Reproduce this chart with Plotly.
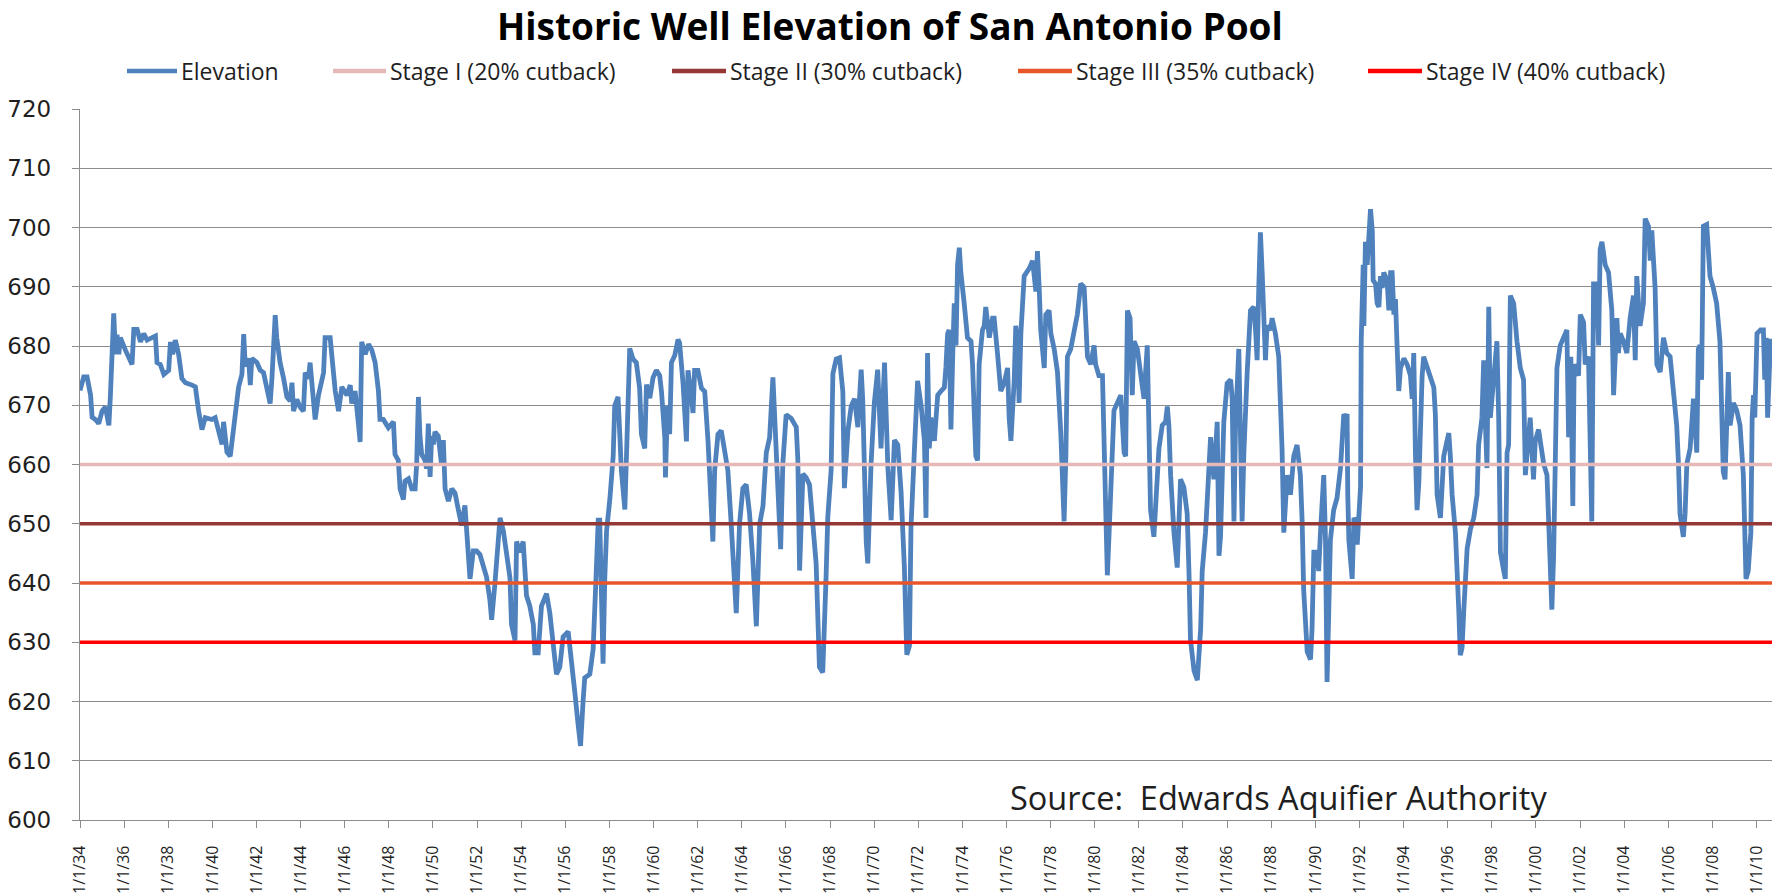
import datetime as dt
import plotly.graph_objects as go

# ---------------- data ----------------
title_text = "Historic Well Elevation of San Antonio Pool"
source_text = "Source:  Edwards Aquifier Authority"

# decimal years of readings
years = [
    1934.00, 1934.17, 1934.32, 1934.48, 1934.55, 1934.70, 1934.85, 1935.00, 1935.15, 1935.31,
    1935.38, 1935.46, 1935.53, 1935.61, 1935.68, 1935.76, 1935.83, 1936.06, 1936.21, 1936.36,
    1936.44, 1936.59, 1936.74, 1936.89, 1937.04, 1937.27, 1937.42, 1937.49, 1937.64, 1937.80,
    1938.02, 1938.10, 1938.20, 1938.32, 1938.47, 1938.62, 1938.78, 1939.08, 1939.23, 1939.38,
    1939.53, 1939.68, 1939.98, 1940.13, 1940.28, 1940.44, 1940.51, 1940.66, 1940.81, 1940.96,
    1941.11, 1941.19, 1941.34, 1941.42, 1941.49, 1941.64, 1941.72, 1941.79, 1942.02, 1942.17,
    1942.32, 1942.47, 1942.62, 1942.70, 1942.85, 1942.92, 1943.07, 1943.23, 1943.38, 1943.53,
    1943.61, 1943.68, 1943.83, 1943.98, 1944.13, 1944.21, 1944.36, 1944.43, 1944.59, 1944.66,
    1944.81, 1944.96, 1945.04, 1945.11, 1945.34, 1945.41, 1945.57, 1945.72, 1945.87, 1946.10,
    1946.25, 1946.32, 1946.47, 1946.62, 1946.70, 1946.77, 1946.93, 1947.08, 1947.23, 1947.38,
    1947.53, 1947.60, 1947.75, 1947.98, 1948.21, 1948.28, 1948.43, 1948.51, 1948.66, 1948.73,
    1948.89, 1949.04, 1949.19, 1949.26, 1949.34, 1949.41, 1949.49, 1949.64, 1949.71, 1949.79,
    1949.87, 1949.94, 1950.02, 1950.09, 1950.24, 1950.39, 1950.47, 1950.55, 1950.70, 1950.85,
    1951.00, 1951.15, 1951.30, 1951.45, 1951.60, 1951.68, 1951.83, 1951.98, 1952.13, 1952.28,
    1952.43, 1952.58, 1952.66, 1952.81, 1952.96, 1953.04,
    # 1953 - 1972
    1953.19, 1953.34, 1953.49, 1953.56, 1953.72, 1953.79, 1953.94, 1954.09, 1954.24, 1954.39,
    1954.55, 1954.62, 1954.77, 1954.92, 1955.15, 1955.30, 1955.45, 1955.60, 1955.75, 1955.90,
    1956.13, 1956.28, 1956.43, 1956.58, 1956.69, 1956.81, 1956.88, 1957.11, 1957.26, 1957.41,
    1957.49, 1957.56, 1957.64, 1957.71, 1957.79, 1957.87, 1958.02, 1958.17, 1958.24, 1958.39,
    1958.47, 1958.54, 1958.70, 1958.77, 1958.85, 1958.92, 1959.07, 1959.22, 1959.37, 1959.45,
    1959.60, 1959.68, 1959.83, 1959.98, 1960.13, 1960.28, 1960.36, 1960.51, 1960.54, 1960.63,
    1960.73, 1960.81, 1960.96, 1961.11, 1961.18, 1961.34, 1961.49, 1961.56, 1961.71, 1961.79,
    1961.86, 1962.01, 1962.17, 1962.32, 1962.47, 1962.62, 1962.69, 1962.77, 1962.92, 1963.07,
    1963.22, 1963.37, 1963.52, 1963.67, 1963.75, 1963.90, 1964.05, 1964.20, 1964.35, 1964.50,
    1964.66, 1964.81, 1964.96, 1965.11, 1965.26, 1965.41, 1965.49, 1965.64, 1965.76, 1965.86,
    1966.01, 1966.24, 1966.47, 1966.54, 1966.62, 1966.77, 1966.92, 1967.07, 1967.22, 1967.37,
    1967.52, 1967.67, 1967.82, 1967.90, 1968.05, 1968.13, 1968.28, 1968.43, 1968.58, 1968.65,
    1968.81, 1968.96, 1969.11, 1969.26, 1969.41, 1969.48, 1969.64, 1969.71, 1969.86, 1970.01,
    1970.16, 1970.31, 1970.47, 1970.62, 1970.77, 1970.92, 1971.07, 1971.22, 1971.37, 1971.48,
    1971.60, 1971.67, 1971.82, 1971.97, 1972.13, 1972.28,
    # 1972 - 1991
    1972.35, 1972.42, 1972.50, 1972.57, 1972.73, 1972.88, 1973.03, 1973.18, 1973.25, 1973.33,
    1973.40, 1973.48, 1973.56, 1973.63, 1973.71, 1973.78, 1973.86, 1973.93, 1974.08, 1974.23,
    1974.39, 1974.46, 1974.54, 1974.61, 1974.69, 1974.76, 1974.91, 1974.99, 1975.06, 1975.22,
    1975.37, 1975.44, 1975.59, 1975.74, 1975.89, 1976.05, 1976.12, 1976.20, 1976.35, 1976.42,
    1976.50, 1976.57, 1976.65, 1976.80, 1977.03, 1977.18, 1977.33, 1977.40, 1977.48, 1977.55,
    1977.71, 1977.78, 1977.93, 1978.01, 1978.16, 1978.31, 1978.46, 1978.54, 1978.61, 1978.69,
    1978.76, 1978.91, 1979.06, 1979.21, 1979.29, 1979.36, 1979.52, 1979.59, 1979.67, 1979.82,
    1979.97, 1980.04, 1980.19, 1980.35, 1980.42, 1980.50, 1980.57, 1980.65, 1980.72, 1980.87,
    1981.02, 1981.18, 1981.33, 1981.40, 1981.48, 1981.60, 1981.70, 1981.78, 1981.93, 1982.08,
    1982.23, 1982.38, 1982.46, 1982.53, 1982.68, 1982.84, 1982.91, 1983.06, 1983.21, 1983.29,
    1983.36, 1983.44, 1983.59, 1983.74, 1983.89, 1984.04, 1984.19, 1984.27, 1984.34, 1984.50,
    1984.65, 1984.80, 1984.87, 1985.02, 1985.10, 1985.25, 1985.40, 1985.55, 1985.63, 1985.70,
    1985.85, 1986.00, 1986.16, 1986.23, 1986.31, 1986.38, 1986.53, 1986.68, 1986.76, 1986.83,
    1986.91, 1987.06, 1987.21, 1987.29, 1987.36, 1987.44, 1987.51, 1987.59, 1987.66, 1987.74,
    1987.81, 1987.97, 1988.04, 1988.19, 1988.34, 1988.42, 1988.49, 1988.57, 1988.72, 1988.87,
    1989.02, 1989.17, 1989.32, 1989.40, 1989.47, 1989.63, 1989.78, 1989.85, 1989.93, 1990.08,
    1990.15, 1990.23, 1990.38, 1990.46, 1990.53, 1990.61, 1990.68, 1990.83, 1990.98,
    # 1991 - 2010
    1991.14, 1991.29, 1991.37, 1991.44, 1991.47, 1991.52, 1991.67, 1991.75, 1991.82, 1991.90,
    1991.97, 1992.05, 1992.08, 1992.17, 1992.20, 1992.27, 1992.35, 1992.42, 1992.50, 1992.58,
    1992.62, 1992.73, 1992.80, 1992.88, 1992.95, 1993.03, 1993.10, 1993.25, 1993.33, 1993.41,
    1993.48, 1993.56, 1993.63, 1993.71, 1993.78, 1993.86, 1994.01, 1994.16, 1994.31, 1994.39,
    1994.46, 1994.54, 1994.61, 1994.69, 1994.76, 1994.84, 1994.91, 1995.07, 1995.22, 1995.37,
    1995.44, 1995.52, 1995.67, 1995.74, 1995.82, 1995.97, 1996.05, 1996.12, 1996.20, 1996.35,
    1996.42, 1996.50, 1996.57, 1996.65, 1996.73, 1996.80, 1996.88, 1997.03, 1997.18, 1997.33,
    1997.40, 1997.55, 1997.63, 1997.71, 1997.78, 1997.86, 1997.93, 1998.08, 1998.23, 1998.31,
    1998.39, 1998.54, 1998.61, 1998.69, 1998.76, 1998.84, 1998.99, 1999.14, 1999.29, 1999.44,
    1999.52, 1999.59, 1999.74, 1999.89, 1999.97, 2000.12, 2000.20, 2000.35, 2000.50, 2000.57,
    2000.65, 2000.72, 2000.80, 2000.87, 2000.95, 2001.10, 2001.25, 2001.40, 2001.48, 2001.58,
    2001.67, 2001.73, 2001.93, 2002.01, 2002.16, 2002.23, 2002.38, 2002.46, 2002.53, 2002.61,
    2002.76, 2002.84, 2002.91, 2002.99, 2003.14, 2003.29, 2003.44, 2003.52, 2003.59, 2003.67,
    2003.74, 2003.82, 2003.97, 2004.12, 2004.27, 2004.42, 2004.50, 2004.57, 2004.65, 2004.72,
    2004.87, 2004.95, 2005.10, 2005.18, 2005.25, 2005.33, 2005.40, 2005.48, 2005.63, 2005.78,
    2005.93, 2006.08, 2006.23, 2006.38, 2006.46, 2006.53, 2006.68, 2006.76, 2006.84, 2006.99,
    2007.14, 2007.29, 2007.36, 2007.44, 2007.51, 2007.59, 2007.74, 2007.82, 2007.89, 2008.04,
    2008.19, 2008.34, 2008.42, 2008.49, 2008.57, 2008.65, 2008.72, 2008.80, 2008.95, 2009.10,
    2009.25, 2009.40, 2009.52, 2009.62, 2009.74, 2009.80, 2009.86, 2009.92, 2010.02, 2010.18,
    2010.31, 2010.37, 2010.44, 2010.50, 2010.63, 2010.70,
]

# well elevation (feet) at each reading
elevation = [
    672.5, 674.8, 674.8, 671.7, 668.0, 667.6, 666.9, 669.0, 669.7, 666.6,
    671.7, 678.6, 685.5, 678.6, 681.9, 678.6, 681.4, 679.3, 677.9, 676.9,
    682.8, 682.8, 680.7, 682.1, 681.0, 681.4, 681.7, 677.2, 676.9, 675.2,
    675.9, 680.7, 678.6, 681.0, 678.6, 674.5, 673.8, 673.4, 673.1, 669.0,
    665.9, 667.9, 667.6, 667.9, 665.5, 663.4, 667.2, 662.1, 661.4, 665.5,
    669.7, 673.1, 675.2, 682.0, 676.6, 677.9, 673.4, 677.9, 677.2, 675.9,
    675.5, 673.1, 670.3, 674.5, 685.2, 681.4, 677.2, 674.5, 671.4, 670.7,
    673.8, 669.0, 671.0, 669.7, 669.0, 675.5, 674.5, 677.2, 671.7, 667.6,
    671.7, 673.8, 675.5, 681.4, 681.4, 678.6, 672.4, 669.0, 673.1, 671.7,
    673.4, 670.3, 672.4, 666.9, 663.8, 680.7, 678.6, 680.3, 679.3, 677.2,
    672.4, 667.6, 667.6, 666.2, 667.2, 661.7, 660.7, 655.9, 654.1, 657.2,
    657.6, 655.9, 655.9, 660.0, 671.4, 664.8, 661.7, 660.7, 659.3, 666.9,
    657.9, 664.8, 663.4, 665.5, 664.8, 660.0, 664.1, 655.9, 653.8, 655.9,
    655.2, 652.4, 649.7, 653.1, 644.1, 640.7, 645.4, 645.4, 644.8, 642.7,
    641.0, 637.2, 633.8, 640.0, 648.3, 651.0,
    # 1953 - 1972
    648.8, 645.2, 640.9, 633.0, 630.3, 647.0, 645.2, 647.0, 637.9, 636.1,
    633.0, 628.2, 628.2, 636.1, 638.2, 634.9, 630.0, 624.6, 625.8, 630.9,
    631.8, 625.8, 621.6, 616.1, 612.5, 620.4, 624.0, 624.6, 628.8, 642.7,
    650.6, 650.6, 637.9, 626.4, 640.9, 648.8, 654.2, 661.4, 669.9, 671.4,
    665.1, 659.0, 652.4, 662.7, 673.5, 679.6, 677.8, 677.2, 672.9, 665.1,
    662.7, 673.5, 671.2, 674.7, 675.9, 675.0, 672.3, 664.5, 657.8, 669.9,
    665.1, 677.2, 678.4, 681.1, 680.5, 673.5, 663.9, 675.9, 671.7, 668.7,
    675.9, 675.9, 672.9, 672.3, 663.9, 651.2, 647.0, 659.0, 665.1, 665.7,
    662.7, 659.0, 650.0, 640.9, 634.9, 650.0, 656.0, 656.6, 651.8, 643.9,
    632.7, 650.0, 653.0, 662.0, 664.5, 674.7, 668.1, 659.0, 645.7, 660.2,
    668.4, 667.8, 666.3, 660.8, 642.1, 658.4, 657.8, 656.6, 650.0, 643.3,
    625.8, 624.9, 640.9, 651.2, 659.0, 675.3, 677.8, 678.0, 672.3, 656.0,
    665.7, 669.9, 671.1, 666.3, 676.0, 671.1, 647.0, 643.3, 660.2, 670.5,
    676.0, 662.7, 677.2, 659.6, 650.6, 664.1, 663.3, 655.4, 642.7, 627.9,
    629.4, 649.4, 662.0, 674.1, 669.9, 663.9,
    # 1972 - 1991
    651.0, 678.8, 662.7, 667.9, 664.0, 671.7, 672.4, 673.0, 676.3, 682.1,
    682.7, 665.9, 678.2, 687.2, 680.1, 693.7, 696.6, 692.4, 687.2, 681.4,
    680.8, 676.9, 668.5, 661.4, 660.7, 676.9, 682.7, 683.4, 686.6, 681.4,
    684.7, 684.7, 678.8, 672.4, 673.7, 676.3, 667.9, 664.0, 674.3, 683.4,
    680.8, 670.4, 682.1, 691.8, 693.1, 694.4, 689.2, 696.0, 689.9, 682.7,
    676.3, 685.3, 686.0, 682.1, 679.5, 675.6, 665.3, 654.6, 650.4, 661.4,
    678.2, 679.5, 682.1, 685.3, 687.9, 690.5, 689.9, 684.0, 678.2, 676.9,
    680.1, 676.9, 675.0, 675.0, 664.0, 651.7, 641.3, 648.4, 656.9, 669.1,
    670.4, 671.7, 662.0, 661.4, 686.0, 684.7, 671.7, 680.8, 679.5, 675.0,
    671.1, 680.1, 668.5, 652.3, 647.8, 658.2, 662.7, 666.6, 667.2, 669.8,
    666.6, 658.2, 648.5, 642.6, 657.5, 656.2, 651.7, 642.0, 630.4, 625.2,
    623.6, 632.3, 642.0, 648.5, 653.6, 664.6, 657.5, 667.2, 644.6, 647.8,
    667.2, 673.7, 674.3, 671.1, 650.4, 666.6, 679.5, 650.4, 662.0, 671.1,
    675.6, 686.0, 686.6, 682.7, 677.6, 690.5, 699.2, 692.4, 682.1, 677.6,
    683.4, 682.7, 684.7, 682.1, 678.2, 671.1, 662.7, 648.5, 658.2, 654.9,
    661.4, 663.3, 658.2, 650.4, 638.8, 628.4, 627.1, 632.3, 645.2, 645.2,
    642.0, 648.5, 658.2, 647.2, 623.3, 635.5, 647.2, 652.3, 654.3,
    # 1991 - 2010
    659.4, 668.5, 667.9, 668.5, 654.9, 647.2, 640.7, 651.0, 650.4, 646.5,
    651.0, 656.2, 680.8, 693.7, 683.4, 697.6, 693.7, 700.2, 703.1, 699.5,
    691.1, 690.5, 687.2, 686.6, 691.8, 689.8, 692.4, 691.1, 686.0, 692.4,
    692.4, 685.3, 687.9, 679.5, 672.4, 676.3, 677.9, 676.9, 675.0, 671.1,
    678.8, 661.4, 652.3, 656.9, 668.5, 674.9, 678.2, 676.3, 674.3, 673.0,
    668.5, 654.9, 651.0, 657.5, 661.4, 664.0, 665.3, 661.4, 654.9, 648.5,
    643.3, 635.5, 627.8, 629.1, 635.5, 642.6, 645.8, 649.1, 651.0, 654.9,
    663.3, 667.9, 677.6, 666.6, 659.4, 686.6, 667.9, 674.3, 680.8, 667.9,
    645.2, 642.0, 640.7, 662.0, 663.3, 688.5, 687.2, 680.8, 676.3, 674.3,
    658.2, 661.4, 667.9, 657.5, 664.0, 665.9, 664.0, 660.1, 658.2, 649.8,
    644.6, 635.5, 644.6, 661.4, 676.3, 680.1, 681.4, 682.7, 664.6, 678.2,
    653.0, 676.9, 675.0, 685.3, 684.0, 676.9, 678.2, 666.6, 650.4, 690.5,
    690.5, 680.1, 696.3, 697.6, 693.7, 692.4, 686.0, 671.7, 676.9, 684.7,
    678.8, 682.1, 680.8, 678.8, 684.7, 688.5, 677.6, 691.8, 687.2, 683.4,
    687.2, 701.5, 700.2, 694.4, 699.5, 693.7, 689.8, 676.9, 675.6, 681.4,
    678.8, 678.2, 673.0, 666.6, 660.1, 651.7, 647.8, 651.7, 660.1, 662.7,
    671.1, 662.0, 679.5, 680.1, 674.3, 700.2, 700.5, 693.7, 691.8, 689.8,
    687.2, 680.8, 671.1, 658.8, 657.5, 667.9, 675.6, 666.6, 670.4, 669.1,
    666.6, 658.2, 640.7, 642.0, 648.5, 667.9, 671.7, 667.9, 682.1, 682.7,
    682.7, 674.3, 681.4, 667.9, 680.8, 680.8,
]

series_name = "Elevation"
stage_names = ["Stage I (20% cutback)", "Stage II (30% cutback)",
               "Stage III (35% cutback)", "Stage IV (40% cutback)"]
stage_levels = [660, 650, 640, 630]

y_min, y_max, y_step = 600, 720, 10

# ---------------- styling ----------------
elev_color = "#4F81BD"
stage_colors = ["#E6B9B8", "#953735", "#E8552B", "#FF0000"]
grid_color = "#8C8C8C"
text_color = "#1F1F1F"

W, H = 1780, 893
ML, MR, MT, MB = 80, 8, 109, 73
PW, PH = W - ML - MR, H - MT - MB


def px_x(px):
    return (px - ML) / PW


def px_y(py):
    return (H - MB - py) / PH


def to_date(y):
    yr = int(y)
    start = dt.datetime(yr, 1, 1)
    end = dt.datetime(yr + 1, 1, 1)
    return start + (end - start) * (y - yr)


dates = [to_date(y) for y in years]
x_start, x_end = dt.datetime(1934, 1, 1), dates[-1]

fig = go.Figure()
fig.add_trace(go.Scatter(
    x=dates, y=elevation, mode="lines", name=series_name,
    line=dict(color=elev_color, width=4.8), showlegend=False,
))
for name, lvl, col in zip(stage_names, stage_levels, stage_colors):
    fig.add_trace(go.Scatter(
        x=[x_start, x_end], y=[lvl, lvl], mode="lines", name=name,
        line=dict(color=col, width=3.5), showlegend=False,
    ))

# manual legend (line sample + label)
legend_items = [series_name] + stage_names
legend_colors = [elev_color] + stage_colors
legend_line_px = [(127, 177), (333, 386), (672, 726), (1018, 1072), (1368, 1422)]
legend_y_px = 71
shapes = []
annotations = []
for name, col, (a, b) in zip(legend_items, legend_colors, legend_line_px):
    shapes.append(dict(type="line", xref="paper", yref="paper",
                       x0=px_x(a), x1=px_x(b), y0=px_y(legend_y_px), y1=px_y(legend_y_px),
                       line=dict(color=col, width=4.5)))
    annotations.append(dict(text=name, xref="paper", yref="paper",
                            x=px_x(b + 2), y=px_y(legend_y_px), xanchor="left", yanchor="middle",
                            showarrow=False,
                            font=dict(family="Open Sans", size=23, color=text_color)))

annotations.append(dict(text=source_text, xref="paper", yref="paper",
                        x=px_x(1008), y=px_y(797), xanchor="left", yanchor="middle",
                        showarrow=False,
                        font=dict(family="Open Sans", size=32.5, color=text_color)))

# title as a paper annotation placed by pixel position
annotations.append(dict(text="<b>" + title_text + "</b>", xref="paper", yref="paper",
                        x=px_x(W / 2), y=px_y(25), xanchor="center", yanchor="middle",
                        showarrow=False,
                        font=dict(family="Open Sans", size=37, color="black")))

fig.update_layout(
    width=W, height=H,
    margin=dict(l=ML, r=MR, t=MT, b=MB, pad=0, autoexpand=False),
    paper_bgcolor="white", plot_bgcolor="white",
    shapes=shapes, annotations=annotations,
    showlegend=False,
    xaxis=dict(
        type="date", range=[x_start, x_end], automargin=False,
        tick0="1934-01-01", dtick="M24", tickformat="%-m/%-d/%y", tickangle=-90,
        ticks="outside", ticklen=7, tickcolor=grid_color, tickwidth=1,
        showline=True, linecolor=grid_color, linewidth=1.3,
        showgrid=False, zeroline=False,
        tickfont=dict(family="Open Sans", size=16, color=text_color),
        ticklabelstandoff=11,
    ),
    yaxis=dict(
        range=[y_min, y_max], dtick=y_step, tick0=y_min, automargin=False,
        ticks="outside", ticklen=7, tickcolor=grid_color, tickwidth=1,
        showline=True, linecolor=grid_color, linewidth=1.3,
        showgrid=True, gridcolor=grid_color, gridwidth=1.3, zeroline=False,
        tickfont=dict(family="DejaVu Sans", size=23, color=text_color),
        ticklabelstandoff=16,
    ),
)

fig.write_html("out.html", config={"displayModeBar": False},
               post_script="document.body.style.margin='0';document.body.style.overflow='hidden';")
